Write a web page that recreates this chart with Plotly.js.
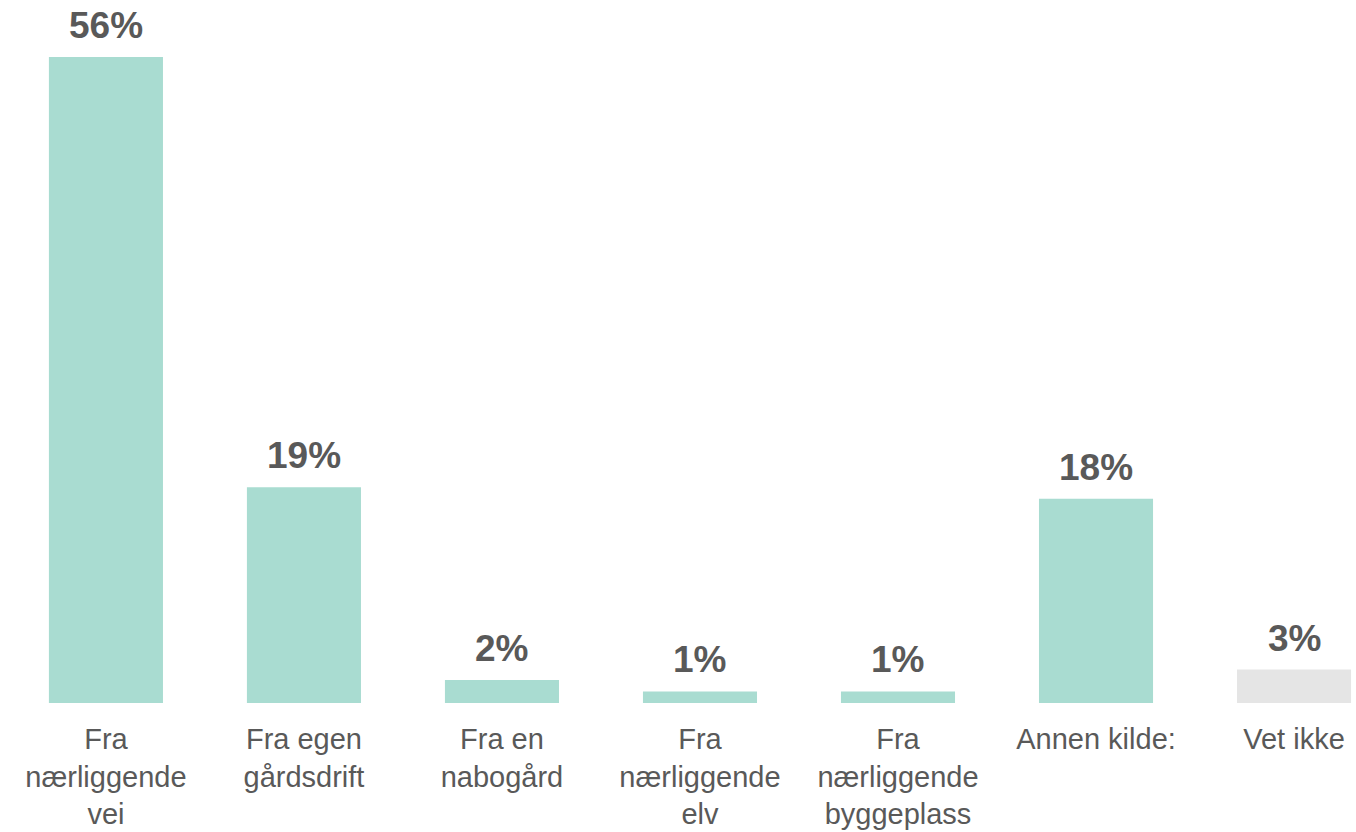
<!DOCTYPE html>
<html>
<head>
<meta charset="utf-8">
<script src="https://cdn.plot.ly/plotly-3.0.1.min.js"></script>
<style>html,body{margin:0;padding:0;background:#fff;}#chart{width:1356px;height:832px;}</style>
</head>
<body>
<div id="chart"></div>
<script>
const categories = [
  "Fra<br>nærliggende<br>vei",
  "Fra egen<br>gårdsdrift",
  "Fra en<br>nabogård",
  "Fra<br>nærliggende<br>elv",
  "Fra<br>nærliggende<br>byggeplass",
  "Annen kilde:",
  "Vet ikke"
];
const values = [56, 18.7, 2, 1, 1, 17.7, 2.9];
const valueLabels = ["56%", "19%", "2%", "1%", "1%", "18%", "3%"];
const barColors = ["#a9dcd1", "#a9dcd1", "#a9dcd1", "#a9dcd1", "#a9dcd1", "#a9dcd1", "#e5e5e5"];

const textColor = "#595959";
const fontFam = "Liberation Sans, Arial, sans-serif";

const trace = {
  type: "bar",
  x: categories.map((c, i) => i),
  y: values,
  marker: { color: barColors },
  hoverinfo: "skip"
};

const annotations = values.map((v, i) => ({
  x: i, y: v, xref: "x", yref: "y",
  text: "<b>" + valueLabels[i] + "</b>",
  showarrow: false,
  yanchor: "bottom",
  yshift: 9,
  font: { family: fontFam, size: 37, color: textColor }
}));

const layout = {
  width: 1356, height: 832,
  margin: { l: 0, r: 0, t: 0, b: 129 },
  paper_bgcolor: "#ffffff",
  plot_bgcolor: "#ffffff",
  showlegend: false,
  bargap: 0.424,
  xaxis: {
    range: [-0.535, 6.313],
    tickmode: "array",
    tickvals: categories.map((c, i) => i),
    ticktext: categories,
    showgrid: false, zeroline: false, showline: false,
    ticks: "",
    ticklabelstandoff: 16,
    tickfont: { family: fontFam, size: 29, color: textColor }
  },
  yaxis: {
    range: [0, 60.94],
    visible: false,
    showgrid: false, zeroline: false
  },
  annotations: annotations
};

Plotly.newPlot("chart", [trace], layout, { displayModeBar: false, staticPlot: true });
</script>
</body>
</html>
